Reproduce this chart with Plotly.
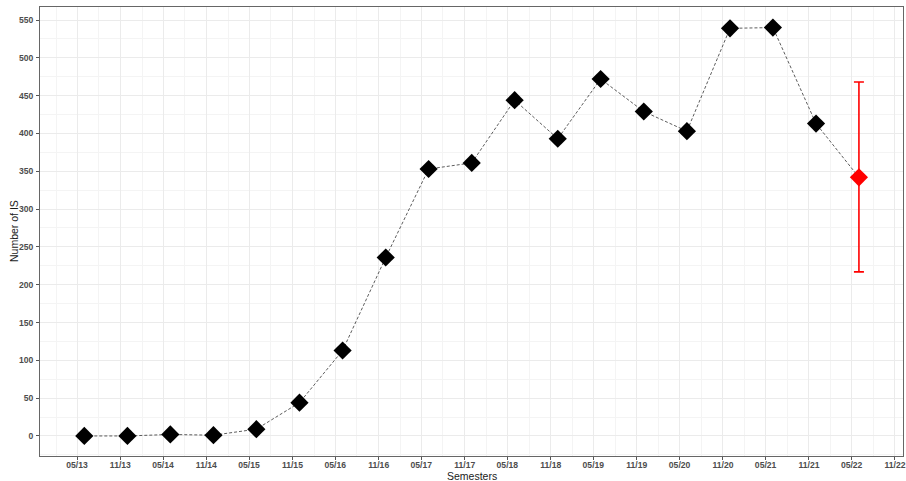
import plotly.graph_objects as go

# Semester tick labels (MM/YY) and their dates
tick_labels = ["05/13", "11/13", "05/14", "11/14", "05/15", "11/15", "05/16", "11/16",
               "05/17", "11/17", "05/18", "11/18", "05/19", "11/19", "05/20", "11/20",
               "05/21", "11/21", "05/22", "11/22"]
tick_dates = ["20%s-%s-01" % (t[3:], t[:2]) for t in tick_labels]

# Observed semesters (points plotted about one month after the tick date)
obs_dates = ["2013-06-01", "2013-12-01", "2014-06-01", "2014-12-01", "2015-06-01",
             "2015-12-01", "2016-06-01", "2016-12-01", "2017-06-01", "2017-12-01",
             "2018-06-01", "2018-12-01", "2019-06-01", "2019-12-01", "2020-06-01",
             "2020-12-01", "2021-06-01", "2021-12-01"]
obs_values = [0, 0, 2, 1, 9, 44, 113, 236, 353, 361, 444, 393, 472, 429, 403, 539, 540, 413]

# Forecast for next semester with interval
fc_date = ["2022-06-01"]
fc_value = [342]
fc_upper = [468]
fc_lower = [217]

x_title = "Semesters"
y_title = "Number of IS"

fig = go.Figure()

fig.add_trace(go.Scatter(
    x=obs_dates + fc_date, y=obs_values + fc_value, mode="lines",
    line=dict(color="#333333", width=0.8, dash="3px,2px"), showlegend=False, hoverinfo="skip"))

fig.add_trace(go.Scatter(
    x=obs_dates, y=obs_values, mode="markers",
    marker=dict(symbol="diamond", size=14, color="black"), showlegend=False))

fig.add_trace(go.Scatter(
    x=fc_date, y=fc_value, mode="markers",
    marker=dict(symbol="diamond", size=14, color="#FF0000"),
    error_y=dict(type="data", symmetric=False,
                 array=[u - v for u, v in zip(fc_upper, fc_value)],
                 arrayminus=[v - l for v, l in zip(fc_value, fc_lower)],
                 color="#FF0000", thickness=1.6, width=5),
    showlegend=False))

tickfont = dict(family="Liberation Sans, Arial, sans-serif", size=8.6, color="#4D4D4D", weight="bold")
titlefont = dict(family="Liberation Sans, Arial, sans-serif", size=10.5, color="#1A1A1A")

fig.update_layout(
    width=906, height=481,
    margin=dict(l=40, r=3, t=7, b=25),
    paper_bgcolor="white", plot_bgcolor="white",
    xaxis=dict(
        type="date", range=["2012-11-25", "2022-12-05"],
        tickmode="array", tickvals=tick_dates, ticktext=tick_labels,
        tickfont=tickfont, ticks="outside", ticklen=3, tickcolor="#555555",
        ticklabeloverflow="allow", ticklabelstandoff=-2,
        showgrid=True, gridcolor="#EBEBEB", gridwidth=1,
        minor=dict(tick0="2013-02-01", dtick="M6", showgrid=True, gridcolor="#F4F4F4", gridwidth=1),
        showline=True, linecolor="#666666", linewidth=1, mirror=True,
        automargin=False, zeroline=False),
    yaxis=dict(
        range=[-26.5, 567.2], tickmode="linear", tick0=0, dtick=50,
        tickfont=tickfont, ticks="outside", ticklen=3, tickcolor="#555555",
        ticklabelstandoff=1,
        showgrid=True, gridcolor="#EBEBEB", gridwidth=1,
        minor=dict(tick0=25, dtick=50, showgrid=True, gridcolor="#F4F4F4", gridwidth=1),
        showline=True, linecolor="#666666", linewidth=1, mirror=True,
        automargin=False, zeroline=False),
    annotations=[
        dict(text=x_title, xref="paper", yref="paper", x=0.5, y=0, yshift=-19.5,
             xanchor="center", yanchor="middle", showarrow=False, font=titlefont),
        dict(text=y_title, xref="paper", yref="paper", x=0, y=0.5, xshift=-26.5,
             xanchor="center", yanchor="middle", textangle=-90, showarrow=False, font=titlefont),
    ],
)

fig.write_html("out.html", config={"displayModeBar": False},
               post_script="document.body.style.margin='0';document.body.style.overflow='hidden';")
